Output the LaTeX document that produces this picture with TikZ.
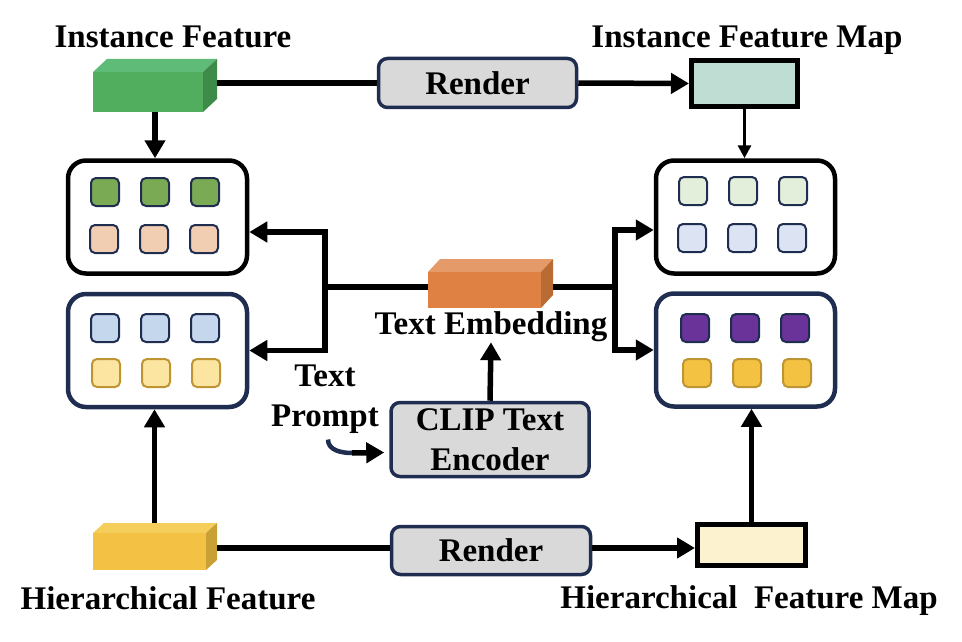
\documentclass[tikz,border=0pt]{standalone}
\usepackage{fontspec}
\setmainfont{Liberation Serif}
\usetikzlibrary{arrows.meta}
\definecolor{navy}{HTML}{1F2D50}
\definecolor{boxgray}{HTML}{D9D9D9}
\definecolor{instfront}{HTML}{51AE5F}
\definecolor{insttop}{HTML}{5FBB78}
\definecolor{instside}{HTML}{3E8A48}
\definecolor{embfront}{HTML}{DF8143}
\definecolor{embtop}{HTML}{E59B69}
\definecolor{embside}{HTML}{B86B33}
\definecolor{hierfront}{HTML}{F3C143}
\definecolor{hiertop}{HTML}{F5CD5A}
\definecolor{hierside}{HTML}{C8A035}
\definecolor{ifmfill}{HTML}{C0DDD3}
\definecolor{hfmfill}{HTML}{FDF2D0}
\definecolor{tgreen}{HTML}{7BAA55}
\definecolor{tpeach}{HTML}{F1CDB1}
\definecolor{tblue}{HTML}{C4D7EC}
\definecolor{tyellow}{HTML}{FBE5A1}
\definecolor{tgold}{HTML}{BF9534}
\definecolor{tmint}{HTML}{E3EFDA}
\definecolor{tpale}{HTML}{DCE3F2}
\definecolor{tpurple}{HTML}{6A339A}
\definecolor{tamber}{HTML}{F4C242}
\begin{document}
\begin{tikzpicture}[x=1pt,y=-1pt,
    wire/.style={line width=5.5pt},
    tip/.style={-{Triangle[length=18pt,width=20pt]}},
    thinwire/.style={line width=3pt,-{Triangle[length=13pt,width=13pt]}},
    lbl/.style={font=\bfseries\fontsize{33}{40}\selectfont,inner sep=0pt,align=center},
    cuboid/.style={inner sep=0pt,outer sep=0pt,minimum width=#1},
    procbox/.style={draw=navy,line width=3.5pt,fill=boxgray,rounded corners=9pt,
        inner sep=0pt,font=\bfseries\fontsize{33}{40}\selectfont,align=center},
    fmap/.style={draw=black,line width=5pt,inner sep=0pt},
    panel/.style={draw=#1,line width=4.5pt,rounded corners=18pt,minimum width=179pt,minimum height=113pt},
    panel/.default=black,
    tile/.style={draw=#1,line width=2pt,rounded corners=5pt,minimum size=28pt,inner sep=0pt},
    tile/.default=navy]
    \useasboundingbox (0,0) rectangle (962,642);
    \node [panel] (tl) at (157.5,217) {};
    \node [panel=navy] (bl) at (157.5,350.5) {};
    \node [panel] (tr) at (745.5,217) {};
    \node [panel=navy] (br) at (745.5,350) {};
    \node [tile,fill=tgreen] (tl1) at (105,192) {};
    \node [tile,fill=tgreen] (tl2) at (155,192) {};
    \node [tile,fill=tgreen] (tl3) at (205,192) {};
    \node [tile,fill=tpeach] (tl4) at (104,239) {};
    \node [tile,fill=tpeach] (tl5) at (154,239) {};
    \node [tile,fill=tpeach] (tl6) at (204,239) {};
    \node [tile,fill=tblue] (bl1) at (105,328) {};
    \node [tile,fill=tblue] (bl2) at (155,328) {};
    \node [tile,fill=tblue] (bl3) at (205,328) {};
    \node [tile=tgold,fill=tyellow] (bl4) at (106,373) {};
    \node [tile=tgold,fill=tyellow] (bl5) at (156,373) {};
    \node [tile=tgold,fill=tyellow] (bl6) at (206,373) {};
    \node [tile,fill=tmint] (tr1) at (693,191) {};
    \node [tile,fill=tmint] (tr2) at (743,191) {};
    \node [tile,fill=tmint] (tr3) at (793,191) {};
    \node [tile,fill=tpale] (tr4) at (692,238) {};
    \node [tile,fill=tpale] (tr5) at (742,238) {};
    \node [tile,fill=tpale] (tr6) at (792,238) {};
    \node [tile,fill=tpurple] (br1) at (695,328) {};
    \node [tile,fill=tpurple] (br2) at (745,328) {};
    \node [tile,fill=tpurple] (br3) at (795,328) {};
    \node [tile=tgold,fill=tamber] (br4) at (697,373) {};
    \node [tile=tgold,fill=tamber] (br5) at (747,373) {};
    \node [tile=tgold,fill=tamber] (br6) at (797,373) {};
    \node [procbox,minimum width=198pt,minimum height=49pt] (rtop) at (477.5,83) {Render};
    \node [procbox,minimum width=199pt,minimum height=48pt] (rbot) at (491,550.5) {Render};
    \node [procbox,minimum width=198pt,minimum height=74pt] (clip) at (490,439.5) {CLIP Text\\Encoder};
    \node [fmap,fill=ifmfill,minimum width=106pt,minimum height=46pt] (ifm) at (744.5,83.5) {};
    \node [fmap,fill=hfmfill,minimum width=108pt,minimum height=41pt] (hfm) at (751.5,545) {};
    \node [cuboid=110pt,minimum height=40pt,fill=instfront] (inst) at (148,92) {};
    \fill [insttop] (inst.north west) -- ++(14,-13) -- ++(110,0) -- (inst.north east) -- cycle;
    \fill [instside] (inst.north east) -- ++(14,-13) -- ++(0,40) -- (inst.south east) -- cycle;
    \node [cuboid=113pt,minimum height=37pt,fill=hierfront] (hier) at (149.5,551.5) {};
    \fill [hiertop] (hier.north west) -- ++(11,-10) -- ++(113,0) -- (hier.north east) -- cycle;
    \fill [hierside] (hier.north east) -- ++(11,-10) -- ++(0,37) -- (hier.south east) -- cycle;
    \node [cuboid=113pt,minimum height=36pt,fill=embfront] (emb) at (484.5,290) {};
    \fill [embtop] (emb.north west) -- ++(12,-13) -- ++(113,0) -- (emb.north east) -- cycle;
    \fill [embside] (emb.north east) -- ++(12,-13) -- ++(0,36) -- (emb.south east) -- cycle;
    \node [lbl] (instlbl) at (173,37) {Instance Feature};
    \node [lbl] (ifmlbl) at (747,40) {Instance Feature Map};
    \node [lbl] (hierlbl) at (168,598) {Hierarchical Feature};
    \node [lbl] (hfmlbl) at (749,601) {Hierarchical~~Feature Map};
    \node [lbl] (emblbl) at (491,327) {Text Embedding};
    \node [lbl] (prompt) at (325,399) {Text\\Prompt};
    \coordinate (instR) at ([shift={(14pt,9pt)}]inst.east);
    \coordinate (hierR) at ([shift={(11pt,3.5pt)}]hier.east);
    \coordinate (embR) at ([shift={(12pt,3pt)}]emb.east);
    \coordinate (lsplit) at (325,287);
    \coordinate (rsplit) at (615,287);
    \coordinate (bend) at (352,453);
    \draw [wire] (instR) -- (instR -| rtop.west);
    \draw [wire,tip] (rtop.east) -- (ifm.west);
    \draw [thinwire] (ifm.south) -- (ifm.south |- tr.north);
    \draw [wire,tip] ([xshift=7pt]inst.south) -- ([xshift=7pt]inst.south |- tl.north);
    \draw [wire] (hierR) -- (hierR -| rbot.west);
    \draw [wire,tip] (hierR -| rbot.east) -- (hierR -| hfm.west);
    \draw [wire,tip] ([shift={(5pt,10pt)}]hier.north) -- ([xshift=5pt]hier.north |- bl.south);
    \draw [wire,tip] (hfm.north) -- (hfm.north |- br.south);
    \draw [wire] ([yshift=3pt]emb.west) -- (lsplit);
    \draw [wire] (embR) -- (rsplit);
    \draw [wire,{Triangle[length=18pt,width=20pt]}-{Triangle[length=18pt,width=20pt]}] ([yshift=-15pt]tl.east) -| (lsplit) |- (bl.east);
    \draw [wire,{Triangle[length=18pt,width=20pt]}-{Triangle[length=18pt,width=20pt]}] ([yshift=-13pt]tr.west) -| (rsplit) |- (br.west);
    \draw [wire,tip] (clip.north) -- (emblbl.south);
    \draw [line width=4.5pt,navy] ([xshift=3pt,yshift=-6pt]prompt.south) to[out=-90,in=180] (bend);
    \draw [wire,tip] (bend) -- ([shift={(-5pt,-13pt)}]clip.west);
\end{tikzpicture}
\end{document}
